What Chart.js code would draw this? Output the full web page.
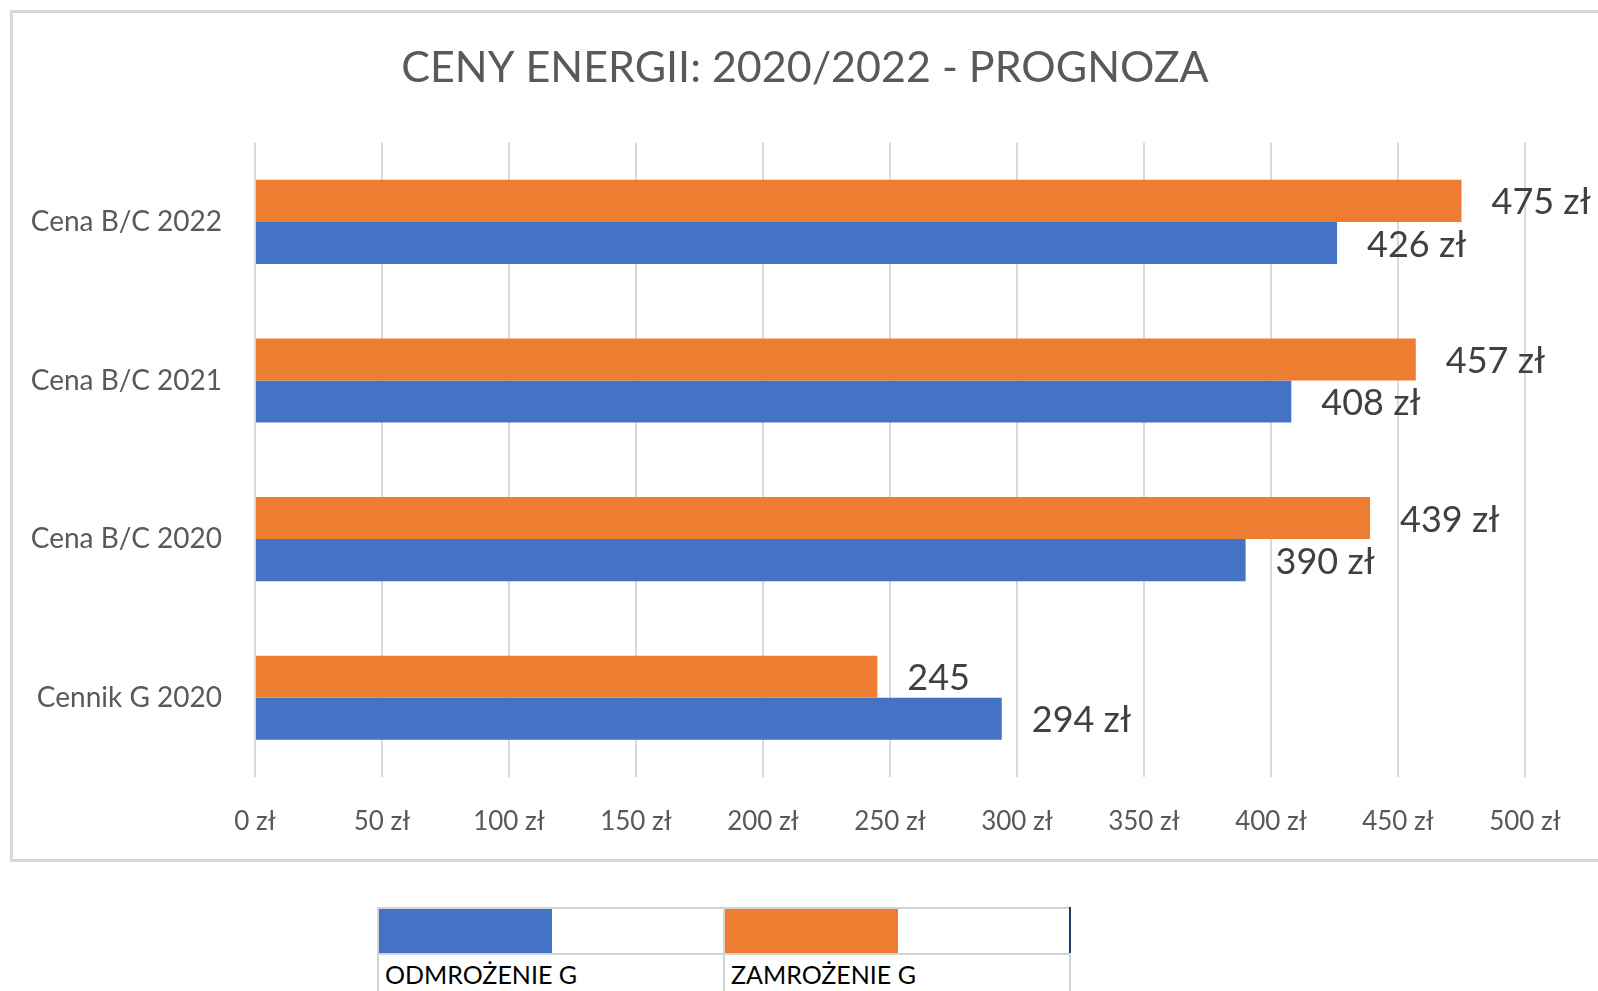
<!DOCTYPE html>
<html>
<head>
<meta charset="utf-8">
<script src="https://cdn.jsdelivr.net/npm/chart.js@4/dist/chart.umd.min.js"></script>
<style>
  body { margin: 0; background: #fff; overflow: hidden; width: 1598px; height: 991px; position: relative; font-family: Lato, "Open Sans", sans-serif; }
  #box { position: absolute; left: 10px; top: 10px; width: 1640px; height: 852px; border: 3px solid #d9d9d9; box-sizing: border-box; }
  #wrap { position: absolute; left: 0; top: 0; width: 1598px; height: 870px; }
  #legend { position: absolute; left: 377px; top: 907px; border-collapse: collapse; }
  #legend td { border: 2px solid #d4d4d4; width: 346px; padding: 0; vertical-align: top; box-sizing: border-box; }
  #legend .sw { height: 46px; }
  #legend .sw div { width: 173px; height: 44px; }
  #legend .txt { font-size: 25px; color: #000; padding: 4px 0 0 6px; height: 40px; }
</style>
</head>
<body>
<div id="box"></div>
<div id="wrap"><canvas id="chart"></canvas></div>
<table id="legend"><tr id="legendSwatches"></tr><tr id="legendNames"></tr></table>
<script>
// categories, top to bottom
const categories = ["Cena B/C 2022", "Cena B/C 2021", "Cena B/C 2020", "Cennik G 2020"]
// series values
const odmrozenie = [426, 408, 390, 294]
const zamrozenie = [475, 457, 439, 245]
// data label texts as shown on the chart
const odmrozenieLabels = ["426 zł", "408 zł", "390 zł", "294 zł"]
const zamrozenieLabels = ["475 zł", "457 zł", "439 zł", "245"]
const seriesNames = ["ODMROŻENIE G", "ZAMROŻENIE G"]
const seriesColors = ["#4472C4", "#ED7D31"]
// x axis ticks
const xMin = 0
const xMax = 500
const xStep = 50

// legend below the chart box
const swRow = document.getElementById("legendSwatches")
const nameRow = document.getElementById("legendNames")
seriesNames.forEach((name, i) => {
  const sw = document.createElement("td")
  sw.className = "sw"
  sw.innerHTML = `<div style="background:${seriesColors[i]}"></div>`
  if (i === seriesNames.length - 1) sw.style.borderRight = "2px solid #1f3864"
  swRow.appendChild(sw)
  const t = document.createElement("td")
  t.className = "txt"
  t.textContent = name
  nameRow.appendChild(t)
})

// draws the value labels to the right of each bar
const barLabels = {
  id: "barLabels",
  afterLayout(chart) {
    // centre the title over the whole box, not just the padded area
    if (chart.titleBlock) {
      chart.titleBlock.left = 0
      chart.titleBlock.right = 1610
    }
  },
  afterDatasetsDraw(chart) {
    const ctx = chart.ctx
    ctx.save()
    ctx.font = "36px Lato"
    ctx.fillStyle = "#404040"
    ctx.textAlign = "left"
    ctx.textBaseline = "middle"
    chart.data.datasets.forEach((ds, di) => {
      const meta = chart.getDatasetMeta(di)
      meta.data.forEach((bar, i) => {
        ctx.fillText(ds.valueLabels[i], bar.x + 30, bar.y + 2)
      })
    })
    ctx.restore()
  },
}

new Chart(document.getElementById("chart"), {
  type: "bar",
  data: {
    labels: categories,
    datasets: [
      // orange first so it sits on top within each category
      {
        label: seriesNames[1],
        data: zamrozenie,
        valueLabels: zamrozenieLabels,
        backgroundColor: seriesColors[1],
        categoryPercentage: 0.53,
        barPercentage: 1.0,
      },
      {
        label: seriesNames[0],
        data: odmrozenie,
        valueLabels: odmrozenieLabels,
        backgroundColor: seriesColors[0],
        categoryPercentage: 0.53,
        barPercentage: 1.0,
      },
    ],
  },
  options: {
    indexAxis: "y",
    responsive: true,
    maintainAspectRatio: false,
    animation: false,
    layout: { padding: { top: 0, right: 73, bottom: 0, left: 0 } },
    plugins: {
      legend: { display: false },
      tooltip: { enabled: false },
      title: {
        display: true,
        text: "CENY ENERGII: 2020/2022 - PROGNOZA",
        color: "#595959",
        font: { family: "Lato", size: 43, weight: "normal", lineHeight: 1.2 },
        padding: { top: 42, bottom: 49 },
      },
    },
    scales: {
      x: {
        min: xMin,
        max: xMax,
        ticks: {
          stepSize: xStep,
          padding: 29,
          color: "#595959",
          font: { family: "Lato", size: 26 },
          callback: value => `${value} zł`,
        },
        grid: { color: "#d9d9d9", lineWidth: 2, drawTicks: false },
        border: { display: false },
        afterFit: scale => {
          scale.height = 93
        },
      },
      y: {
        ticks: {
          padding: 25,
          color: "#595959",
          font: { family: "Lato", size: 28 },
        },
        grid: { display: false },
        border: { display: false },
        afterFit: scale => {
          scale.width = 255
        },
      },
    },
  },
  plugins: [barLabels],
})
</script>
</body>
</html>
